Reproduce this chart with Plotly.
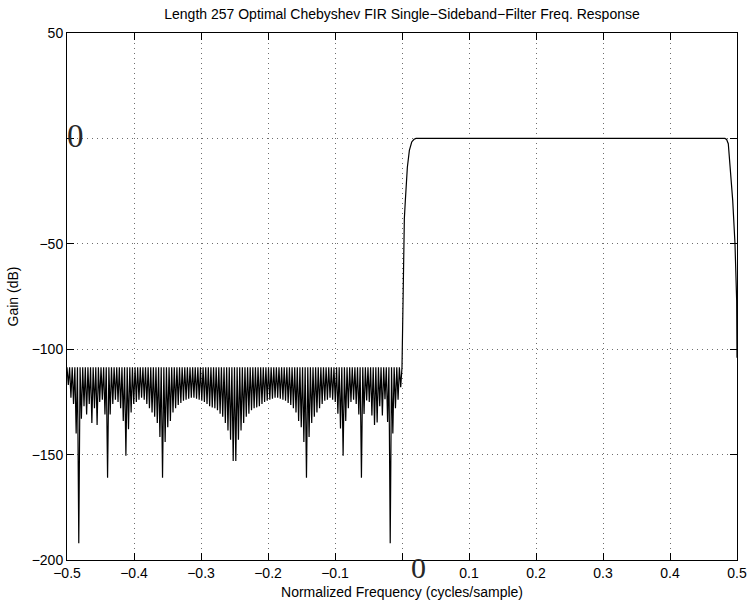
import numpy as np
import plotly.graph_objects as go

# ---------------- data ----------------
# Stopband: lobe tops sit at about -108.6 dB; each lobe's sampled dip depth (dB)
stop_top_db = -108.6
stop_lobes = 128                      # lobes between -0.5 and 0 (cycles/sample)
stop_dip_db = [
    -117, -123, -126, -140, -192, -133, -127, -131, -126, -135,
    -128, -136, -125, -124, -131, -161, -131, -126, -124, -125,
    -128, -134, -150.5, -138, -130, -126, -125, -124, -123, -124,
    -126, -128, -130, -132, -135, -141.6, -161, -144, -137, -134,
    -130, -128, -126.5, -125.5, -124.5, -124, -123.5, -123, -123, -123.5,
    -124, -124.5, -125, -126, -127, -127.6, -128, -129, -130.6, -132,
    -135, -138.6, -143, -153, -153, -143, -138.6, -135, -132, -130.6,
    -129, -128, -127.6, -127, -126, -125, -124.5, -124, -123.5, -123,
    -123, -123.5, -124, -124.5, -125.5, -126.5, -128, -130, -134, -137,
    -144, -161, -141.6, -135, -132, -130, -128, -126, -124.5, -124,
    -123, -124, -125, -130.6, -137.6, -150.5, -134, -128, -125, -124,
    -126, -131, -161, -130.7, -124.3, -125, -131.5, -136, -134.8, -127,
    -131.5, -123.7, -134.5, -192, -140, -128, -124, -118,
]

# Transition band + passband + upper band edge
band_freq = [0.0, 0.0008, 0.0015, 0.002, 0.0035, 0.005, 0.0065, 0.008, 0.011,
             0.0145, 0.018, 0.021, 0.482, 0.4845, 0.487, 0.4896, 0.4936,
             0.497, 0.4995, 0.5]
band_db = [-108.6, -90, -70, -50, -38, -29.4, -20, -13.7, -5.7,
           -1.7, -0.4, 0.0, 0.0, -0.5, -2.5, -13.6, -29.4,
           -50, -77, -104]

x_ticks = [-0.5, -0.4, -0.3, -0.2, -0.1, 0.0, 0.1, 0.2, 0.3, 0.4, 0.5]
x_ticktext = ["\u22120.5", "\u22120.4", "\u22120.3", "\u22120.2", "\u22120.1", "",
              "0.1", "0.2", "0.3", "0.4", "0.5"]
y_ticks = [-200, -150, -100, -50, 0, 50]
y_ticktext = ["\u2212200", "\u2212150", "\u2212100", "\u221250", "", "50"]

title = "Length 257 Optimal Chebyshev FIR Single\u2212Sideband\u2212Filter Freq. Response"
x_title = "Normalized Frequency (cycles/sample)"
y_title = "Gain (dB)"

# ---------------- build the curve ----------------
step = 0.5 / stop_lobes
xs, ys = [], []
for k, d in enumerate(stop_dip_db):
    xs.append(-0.5 + k * step)
    ys.append(stop_top_db)
    xs.append(-0.5 + (k + 0.5) * step)
    ys.append(d)
xs += band_freq
ys += band_db

FONT = "Liberation Sans, Arial, Helvetica, sans-serif"
SERIF = "Liberation Serif, Times New Roman, serif"

fig = go.Figure()
fig.add_trace(go.Scatter(x=xs, y=ys, mode="lines",
                         line=dict(color="black", width=1.2), showlegend=False,
                         hoverinfo="skip"))

axis_common = dict(
    showline=True, linecolor="black", linewidth=1, mirror="ticks",
    ticks="inside", ticklen=7, tickwidth=1, tickcolor="black",
    showgrid=True, gridcolor="rgb(110,110,110)", gridwidth=1, griddash="1px,4px",
    zeroline=False, automargin=False,
    tickfont=dict(family=FONT, size=14, color="black"),
)

fig.update_layout(
    template="none",
    width=749, height=603, autosize=False,
    margin=dict(l=67, r=12, t=33, b=43, pad=0),
    paper_bgcolor="white", plot_bgcolor="white",
    showlegend=False,
    title=dict(text=title, x=0.5, xref="paper", xanchor="center",
               y=1 - 14 / 603, yref="container", yanchor="middle",
               font=dict(family=FONT, size=14, color="black")),
    xaxis=dict(range=[-0.5, 0.5], tickvals=x_ticks, ticktext=x_ticktext,
               title=dict(text=x_title, standoff=7,
                          font=dict(family=FONT, size=14, color="black")),
               **axis_common),
    yaxis=dict(range=[-200, 50], tickvals=y_ticks, ticktext=y_ticktext,
               title=dict(text=y_title, standoff=9,
                          font=dict(family=FONT, size=14, color="black")),
               **axis_common),
)

# Large serif zeros replacing the 0 tick labels
fig.add_annotation(text="0", x=-0.488, y=0, xref="x", yref="y",
                   xanchor="center", yanchor="middle", showarrow=False,
                   yshift=2, font=dict(family=SERIF, size=33, color="rgb(40,40,40)"))
fig.add_annotation(text="0", x=0.0246, y=0, xref="x", yref="paper",
                   xanchor="center", yanchor="middle", showarrow=False,
                   yshift=-7, font=dict(family=SERIF, size=30, color="rgb(40,40,40)"))

fig.write_html("out.html")
